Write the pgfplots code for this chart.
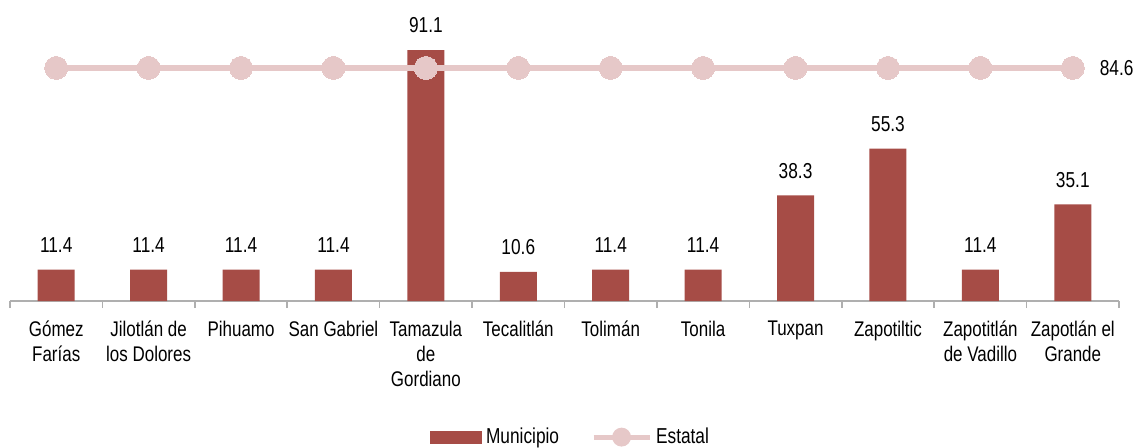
\documentclass[border=0pt]{standalone}
\usepackage{fontspec}
\setmainfont{Liberation Sans}[FakeStretch=0.8]
\usepackage{pgfplots}
\pgfplotsset{compat=1.18}
\definecolor{barcol}{RGB}{166,76,70}
\definecolor{linecol}{RGB}{230,200,200}
\definecolor{axcol}{RGB}{175,175,175}
\begin{document}
\begin{tikzpicture}
\useasboundingbox (-5pt,-73pt) rectangle (564.5pt,150.5pt);
\begin{axis}[
  at={(0pt,0pt)}, anchor=south west,
  scale only axis,
  width=554.5pt, height=137.75pt,
  xmin=-0.5, xmax=11.5, ymin=0, ymax=100,
  ybar, bar width=18.5pt,
  axis x line*=bottom, axis y line=none,
  axis line style={draw=axcol, line width=0.8pt},
  xtick={0,...,11},
  xticklabels={G\'omez\\Far\'ias, Jilotl\'an de\\los Dolores, Pihuamo, San Gabriel,
    Tamazula\\de\\Gordiano, Tecalitl\'an, Tolim\'an, Tonila, Tuxpan, Zapotiltic,
    Zapotitl\'an\\de Vadillo, Zapotl\'an el\\Grande},
  xticklabel style={align=center, font=\fontsize{10.6}{12.5}\selectfont, yshift=-6.5pt},
  major tick length=0pt,
  minor xtick={-0.5,0.5,...,11.5},
  minor tick length=3.5pt,
  tick align=outside,
  minor tick style={draw=axcol, line width=0.8pt},
  clip=false,
  /pgf/number format/assume math mode=true,
  /pgf/number format/fixed, /pgf/number format/precision=1,
  legend columns=2,
  legend style={draw=none, fill=none, at={(0.5,-0.494)}, anchor=center, xshift=3.5pt,
    font=\fontsize{10.8}{12}\selectfont,
    /tikz/every even column/.append style={column sep=14pt}},
]
\addplot[fill=barcol, draw=none,
  nodes near coords, every node near coord/.append style={font=\fontsize{10.8}{12}\selectfont, yshift=5pt, text=black},
  legend image code/.code={\fill[barcol] (0pt,-3.25pt) rectangle (26pt,3.25pt);}]
  coordinates {
  (0,11.4) (1,11.4) (2,11.4) (3,11.4) (4,91.1) (5,10.6)
  (6,11.4) (7,11.4) (8,38.3) (9,55.3) (10,11.4) (11,35.1)
};
\addlegendentry{Municipio}
\addplot[sharp plot, draw=linecol, line width=3pt, mark=*, mark size=5.75pt,
  mark options={fill=linecol, draw=linecol, line width=0pt},
  legend image code/.code={\draw[linecol, line width=2.5pt] (0pt,0pt)--(28pt,0pt);
    \fill[linecol] (14pt,0pt) circle (3.2pt);}]
  coordinates {
  (0,84.6) (1,84.6) (2,84.6) (3,84.6) (4,84.6) (5,84.6)
  (6,84.6) (7,84.6) (8,84.6) (9,84.6) (10,84.6) (11,84.6)
};
\addlegendentry{Estatal}
\node[anchor=west, xshift=10pt, font=\fontsize{10.8}{12}\selectfont] at (axis cs:11,84.6) {84.6};
\end{axis}
\end{tikzpicture}
\end{document}
